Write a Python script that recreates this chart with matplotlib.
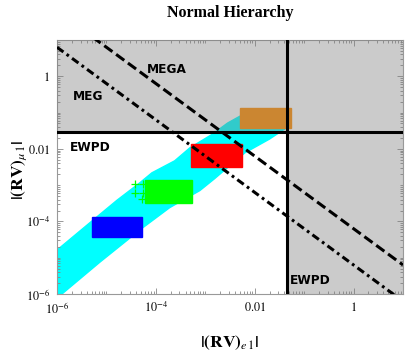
import numpy as np
import matplotlib
matplotlib.use('Agg')
import matplotlib.pyplot as plt
import matplotlib.ticker as mt

plt.rcParams['mathtext.fontset'] = 'stix'
plt.rcParams['font.family'] = ['Liberation Serif', 'DejaVu Serif']

# ---------------- data ----------------
x_lim = [1e-6, 10.0]
y_lim = [1e-6, 10.0]
tick_vals = [1e-6, 1e-4, 1e-2, 1.0]
tick_labels = [r'$10^{-6}$', r'$10^{-4}$', r'$0.01$', r'$1$']

ewpd_e = 0.045      # EWPD bound on |(RV)_e1|
ewpd_mu = 0.029     # EWPD bound on |(RV)_mu1|
meg_product = 10 ** -5.2    # MEG bound: |(RV)_e1 (RV)_mu1|
mega_product = 10 ** -4.2   # MEGA bound

# cyan band of scan points (outline, log10 values)
band_logx = [-6.00, -5.33, -4.79, -4.32, -4.08, -3.62, -3.31, -2.85, -2.55, -2.30,
             -1.86, -1.39, -1.39, -1.70, -2.20, -2.51, -2.81, -3.11, -3.72, -4.28,
             -5.13, -5.90, -6.00]
band_logy = [-4.79, -4.03, -3.42, -2.93, -2.66, -2.33, -1.97, -1.59, -1.29, -1.10,
             -1.01, -1.23, -1.45, -1.73, -2.11, -2.47, -2.82, -3.15, -3.62, -4.19,
             -5.12, -6.00, -6.00]

# benchmark clusters (log10 extents)
cluster_colors = ['#0000FF', '#00FF00', '#FF0000', '#FF8C00']
cluster_logx_min = [-5.29, -4.22, -3.29, -2.30]
cluster_logx_max = [-4.28, -3.27, -2.26, -1.27]
cluster_logy_min = [-4.44, -3.48, -2.49, -1.42]
cluster_logy_max = [-3.89, -2.85, -1.86, -0.88]

plus_logx = [-4.42, -4.26, -4.42, -4.27, -4.28]
plus_logy = [-2.96, -2.96, -3.21, -3.21, -3.37]

# ---------------- figure ----------------
fig = plt.figure(figsize=(4.09, 3.54), dpi=100)
ax = fig.add_axes([57 / 409, 60 / 354, 346 / 409, 254 / 354])
ax.set_xscale('log')
ax.set_yscale('log')
ax.set_xlim(x_lim)
ax.set_ylim(y_lim)

bx = 10.0 ** np.array(band_logx)
by = 10.0 ** np.array(band_logy)
ax.fill(bx, by, color='#00FFFF', lw=1.0, ec='#00FFFF', zorder=1)

for c, x0, x1, y0, y1 in zip(cluster_colors, cluster_logx_min, cluster_logx_max,
                             cluster_logy_min, cluster_logy_max):
    xs = 10.0 ** np.array([x0, x1, x1, x0])
    ys = 10.0 ** np.array([y0, y0, y1, y1])
    ax.fill(xs, ys, color=c, ec=c, lw=1.0, zorder=2)

ax.scatter(10.0 ** np.array(plus_logx), 10.0 ** np.array(plus_logy), marker='+',
           s=30, color='#00FF00', linewidths=0.9, zorder=2)

# excluded (gray) region
gx = [x_lim[0], x_lim[1], x_lim[1], ewpd_e, ewpd_e, x_lim[0]]
gy = [y_lim[1], y_lim[1], y_lim[0], y_lim[0], ewpd_mu, ewpd_mu]
ax.fill(gx, gy, color='#7d7d7d', alpha=0.4, lw=0, zorder=3)

# bounds
ax.axvline(ewpd_e, color='black', lw=2.2, zorder=4)
ax.axhline(ewpd_mu, color='black', lw=2.2, zorder=4)
lx = np.array(x_lim)
ax.plot(lx, mega_product / lx, color='black', lw=2.2, dashes=(3.3, 1.5),
        dash_capstyle='butt', zorder=4)
ax.plot(lx, meg_product / lx, color='black', lw=2.2, dashes=(2.6, 1.3, 0.9, 1.3),
        dash_capstyle='butt', zorder=4)

lab = dict(family='DejaVu Sans', fontweight='bold', fontsize=8.7, color='black',
           va='center', ha='left', zorder=5)
ax.text(10 ** -4.18, 10 ** 0.19, 'MEGA', **lab)
ax.text(10 ** -5.68, 10 ** -0.55, 'MEG', **lab)
ax.text(10 ** -5.74, 10 ** -1.95, 'EWPD', **lab)
ax.text(10 ** -1.29, 10 ** -5.62, 'EWPD', **lab)

# ticks
ax.set_xticks(tick_vals)
ax.set_xticklabels(tick_labels)
ax.set_yticks(tick_vals)
ax.set_yticklabels(tick_labels)
ax.xaxis.set_minor_locator(mt.LogLocator(base=10, subs=np.arange(1, 10), numticks=30))
ax.yaxis.set_minor_locator(mt.LogLocator(base=10, subs=np.arange(1, 10), numticks=30))
ax.xaxis.set_minor_formatter(mt.NullFormatter())
ax.yaxis.set_minor_formatter(mt.NullFormatter())
ax.tick_params(which='both', direction='in', top=True, right=True, color='#888888',
               labelsize=8.7, width=0.6)
ax.tick_params(which='major', length=4)
ax.tick_params(which='minor', length=2)
ax.tick_params(axis='x', pad=5)
ax.tick_params(axis='y', pad=5)
for s in ax.spines.values():
    s.set_color('#999999')
    s.set_linewidth(0.8)

fig.text(230 / 409, 1 - 13 / 354, 'Normal Hierarchy', fontsize=11.5,
         fontweight='bold', ha='center', va='center')
ax.set_xlabel(r'$\mathbf{|(RV)}_{e\,1}\mathbf{|}$', fontsize=12.5, va='center')
ax.set_ylabel(r'$\mathbf{|(RV)}_{\mu\,1}\mathbf{|}$', fontsize=12.5, va='center')
ax.xaxis.set_label_coords(0.5, -(343 - 294) / 254)
ax.yaxis.set_label_coords((19 - 57) / 346, (294 - 170) / 254)

fig.savefig('out.png', dpi=100)
